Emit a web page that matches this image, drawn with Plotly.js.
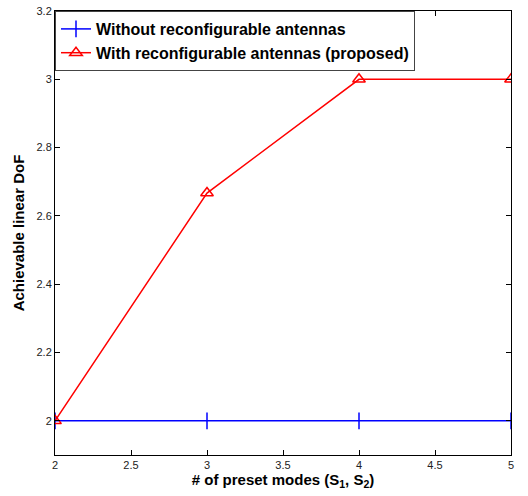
<!DOCTYPE html>
<html><head><meta charset="utf-8">
<script src="https://cdn.plot.ly/plotly-3.0.1.min.js"></script>
<style>body{margin:0;background:#fff}#c{width:528px;height:496px}</style>
</head><body><div id="c"></div>
<script>
const presetModes = [2, 3, 4, 5];
const withoutReconf = [2, 2, 2, 2];
const withReconf = [2, 2.667, 3, 3];
const seriesNames = ["Without reconfigurable antennas", "With reconfigurable antennas (proposed)"];

const traces = [
  {x: presetModes, y: withoutReconf, name: seriesNames[0], mode: "lines+markers",
   line: {color: "#0000ff", width: 1.5},
   marker: {symbol: "line-ns-open", size: 12, color: "#0000ff", line: {color: "#0000ff", width: 1.5}}},
  {x: presetModes, y: withReconf, name: seriesNames[1], mode: "lines+markers",
   line: {color: "#ff0000", width: 1.5},
   marker: {symbol: "triangle-up-open", size: 11, color: "#ff0000", line: {color: "#ff0000", width: 1.5}}}
];
const axisCommon = {showline: true, mirror: "ticks", linecolor: "#000", linewidth: 1,
  ticks: "inside", ticklen: 5, tickcolor: "#000", showgrid: false, zeroline: false,
  tickfont: {family: "Arial", size: 11, color: "#222"}};
const layout = {
  width: 528, height: 496,
  margin: {l: 55, r: 17, t: 11, b: 41},
  paper_bgcolor: "#fff", plot_bgcolor: "#fff",
  showlegend: true,
  legend: {x: 0, y: 1, xanchor: "left", yanchor: "top", bgcolor: "#fff",
    bordercolor: "#444", borderwidth: 1,
    font: {family: "Arial", size: 16, color: "#000", weight: "bold"}, tracegroupgap: 0},
  xaxis: Object.assign({}, axisCommon, {range: [2, 5], tickvals: [2, 2.5, 3, 3.5, 4, 4.5, 5],
    ticktext: ["2", "2.5", "3", "3.5", "4", "4.5", "5"],
    title: {text: "<b># of preset modes (S<sub>1</sub>, S<sub>2</sub>)</b>", standoff: 4,
      font: {family: "Arial", size: 15, color: "#000"}}}),
  yaxis: Object.assign({}, axisCommon, {range: [1.9, 3.2], tickvals: [2, 2.2, 2.4, 2.6, 2.8, 3, 3.2],
    ticktext: ["2", "2.2", "2.4", "2.6", "2.8", "3", "3.2"],
    title: {text: "<b>Achievable linear DoF</b>", standoff: 8,
      font: {family: "Arial", size: 15, color: "#000"}}})
};
Plotly.newPlot("c", traces, layout, {displayModeBar: false, staticPlot: true});
</script></body></html>
